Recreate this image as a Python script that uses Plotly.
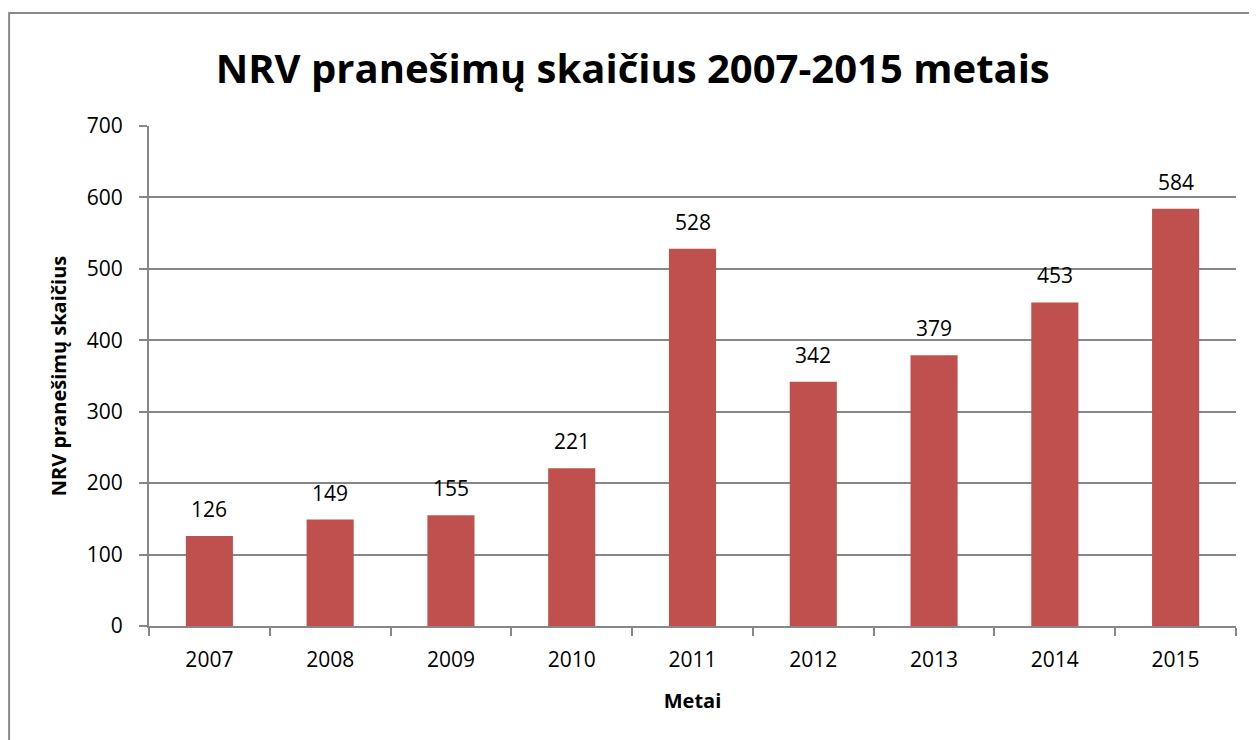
import plotly.graph_objects as go

years = ['2007', '2008', '2009', '2010', '2011', '2012', '2013', '2014', '2015']
reports = [126, 149, 155, 221, 528, 342, 379, 453, 584]
y_ticks = [0, 100, 200, 300, 400, 500, 600, 700]

bar_color = '#C0504D'
grid_color = '#878787'
font_name = 'Open Sans'

fig = go.Figure()

fig.add_trace(go.Bar(
    x=years,
    y=reports,
    marker=dict(color=bar_color, line=dict(width=0)),
    width=0.39,
    hoverinfo='x+y',
))

# value labels above bars (category index, so numeric-looking years aren't read as positions)
for i, v in enumerate(reports):
    fig.add_annotation(x=i, y=v, text=str(v), showarrow=False,
                       yanchor='bottom', yshift=11,
                       font=dict(family=font_name, size=21, color='black'))

# outer frame of the chart (runs off the right and bottom edges)
fig.add_shape(type='rect', xref='paper', yref='paper',
              x0=-0.1287, x1=1.1, y0=-0.4, y1=1.226,
              line=dict(color='#8a8a8a', width=2), layer='below')

fig.update_layout(
    width=1257, height=740,
    margin=dict(l=141, r=29, t=118, b=122),
    paper_bgcolor='white', plot_bgcolor='white',
    showlegend=False,
    title=dict(text='<b>NRV pranešimų skaičius 2007-2015 metais</b>',
               x=0.497, xanchor='center', y=0.917, yanchor='middle',
               font=dict(family=font_name, size=40, color='black')),
    font=dict(family=font_name, color='black'),
)

fig.update_xaxes(
    type='category',
    showline=True, linecolor=grid_color, linewidth=2,
    ticks='outside', tickson='boundaries', ticklen=8, tickwidth=2, tickcolor=grid_color,
    tickfont=dict(family=font_name, size=21, color='black'),
    ticklabelstandoff=14,
    title=dict(text='<b>Metai</b>', font=dict(family=font_name, size=20, color='black'), standoff=22),
    showgrid=False, automargin=False,
)

fig.update_yaxes(
    range=[0, 700], tickvals=y_ticks,
    showline=True, linecolor=grid_color, linewidth=2,
    ticks='outside', ticklen=8, tickwidth=2, tickcolor=grid_color,
    tickfont=dict(family=font_name, size=21, color='black'),
    ticklabelstandoff=12,
    showgrid=True, gridcolor=grid_color, gridwidth=2,
    zeroline=False, automargin=False,
    title=dict(text='<b>NRV pranešimų skaičius</b>', font=dict(family=font_name, size=20, color='black'), standoff=15),
)

fig.write_html('out.html')
